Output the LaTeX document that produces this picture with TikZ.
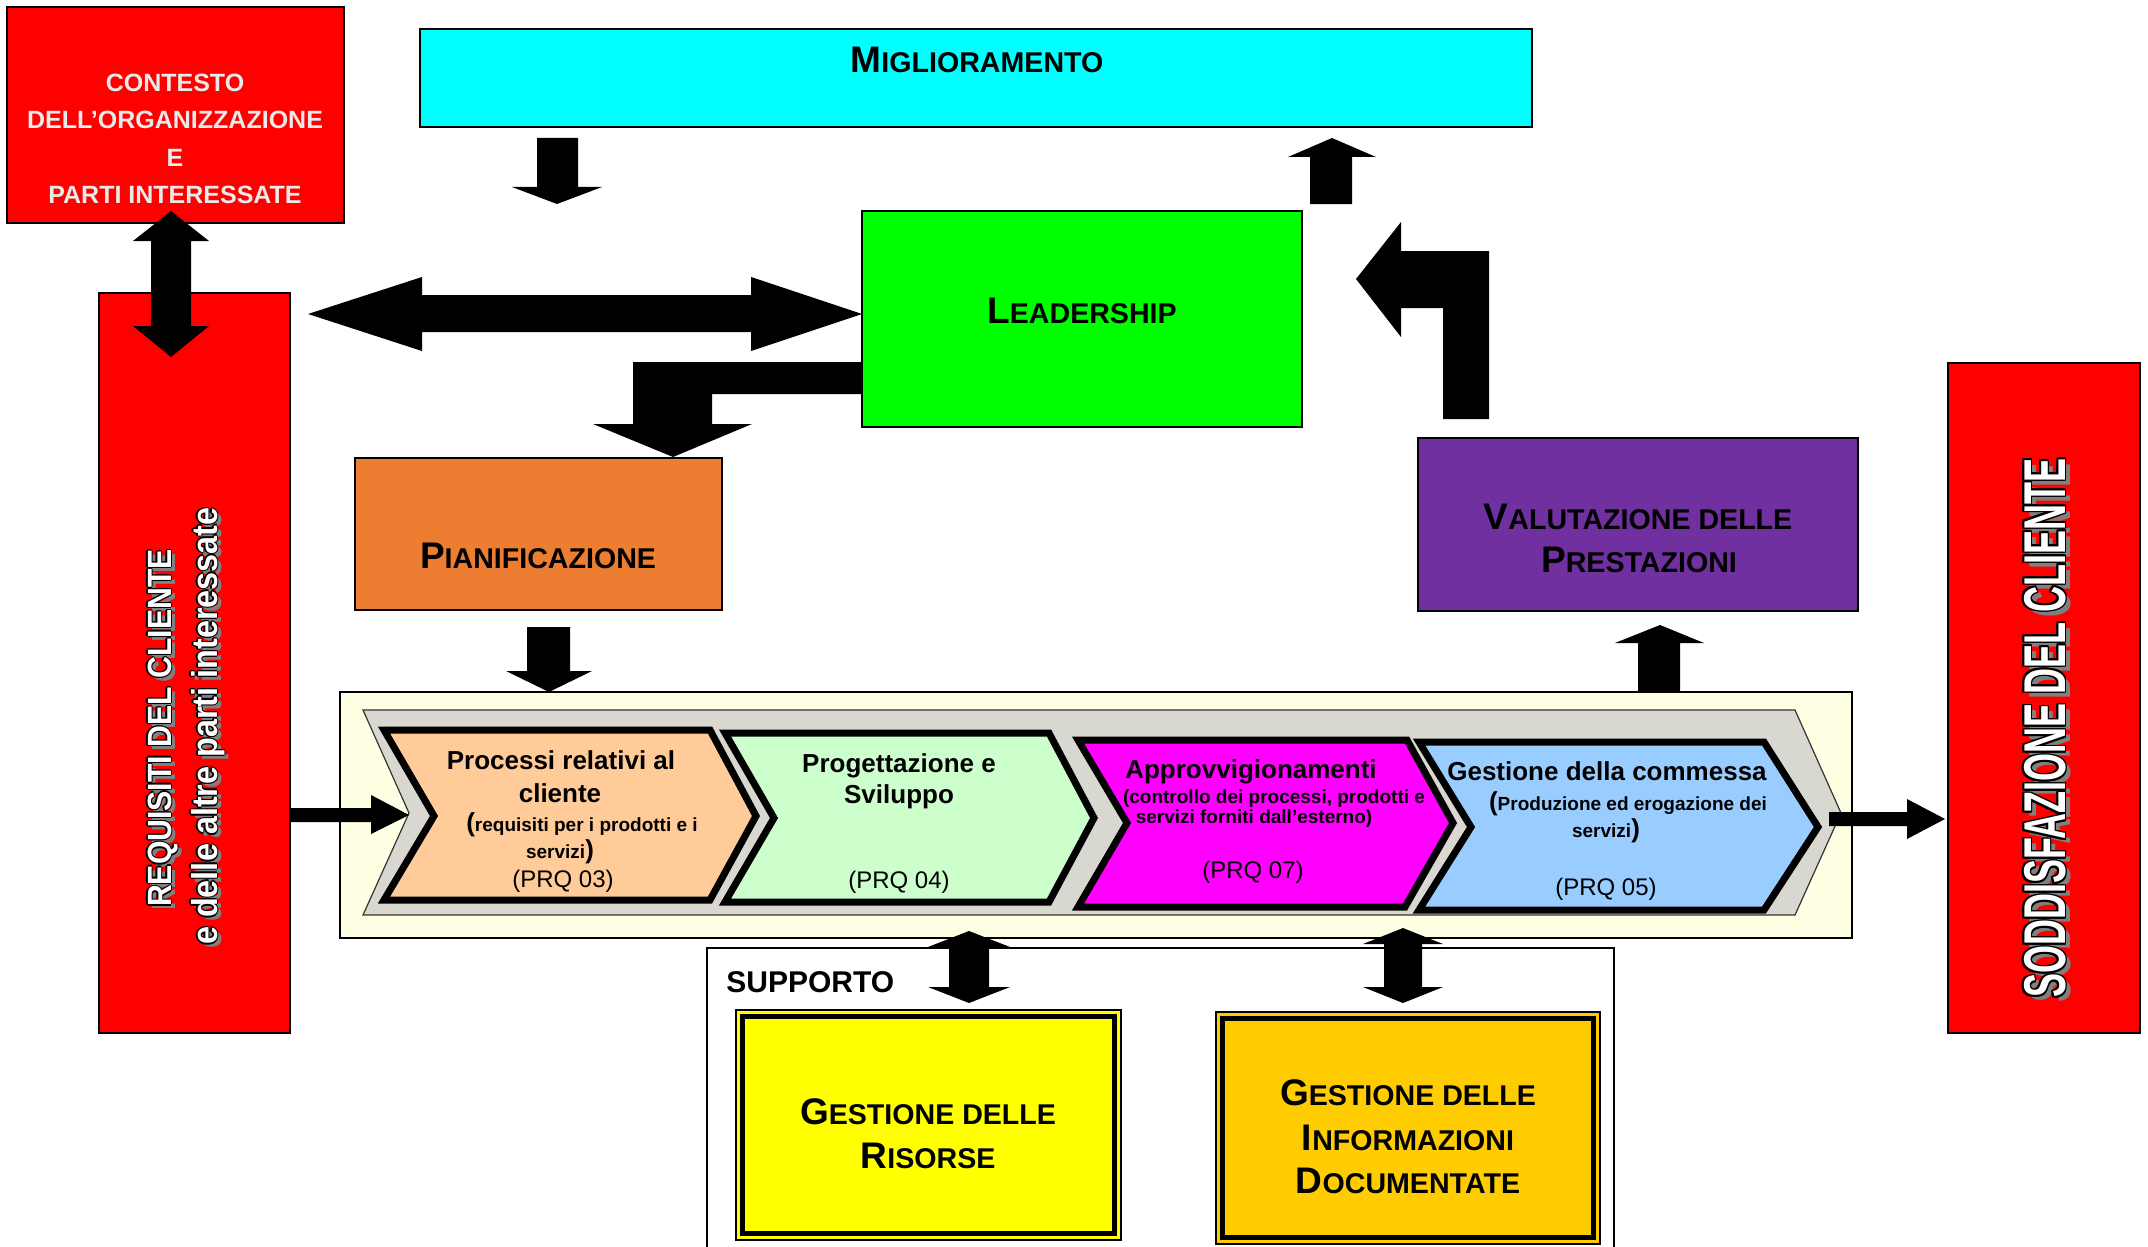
\documentclass[tikz,border=0pt]{standalone}
\usepackage{fontspec}
\setmainfont{Liberation Sans}
\newfontfamily\reqfont[FakeStretch=0.9]{Liberation Sans}
\newfontfamily\sodfont[FakeStretch=0.61]{Liberation Sans}
\usetikzlibrary{calc}
\definecolor{cred}{RGB}{255,0,0}
\definecolor{ccyan}{RGB}{0,255,255}
\definecolor{cgreen}{RGB}{0,255,0}
\definecolor{corange}{RGB}{237,125,49}
\definecolor{cpurple}{RGB}{112,48,160}
\definecolor{ccream}{RGB}{255,255,228}
\definecolor{cgray}{RGB}{216,216,208}
\definecolor{cpeach}{RGB}{255,204,153}
\definecolor{clgreen}{RGB}{204,255,204}
\definecolor{cmag}{RGB}{255,0,255}
\definecolor{clblue}{RGB}{153,204,255}
\definecolor{cyel}{RGB}{255,255,0}
\definecolor{cgold}{RGB}{255,204,0}
\definecolor{ctxt}{RGB}{234,234,234}
\definecolor{cshadow}{RGB}{128,128,128}
\newcommand\hsc[2]{{\bfseries\fontsize{18.5}{22}\selectfont #1\fontsize{14.3}{22}\selectfont #2}}
\newcommand\bp[1]{{\fontsize{13}{15}\selectfont #1}}
\newcommand\otext[4]{% #1 shadow offset, #2 outline offset, #3 diagonal offset, #4 text
  \leavevmode
  \rlap{\kern-#1\raisebox{-#1}{\textcolor{cshadow}{#4}}}%
  \rlap{\kern#2\textcolor{black}{#4}}%
  \rlap{\kern-#2\textcolor{black}{#4}}%
  \rlap{\raisebox{#2}{\textcolor{black}{#4}}}%
  \rlap{\raisebox{-#2}{\textcolor{black}{#4}}}%
  \rlap{\kern#3\raisebox{#3}{\textcolor{black}{#4}}}%
  \rlap{\kern-#3\raisebox{#3}{\textcolor{black}{#4}}}%
  \rlap{\kern#3\raisebox{-#3}{\textcolor{black}{#4}}}%
  \rlap{\kern-#3\raisebox{-#3}{\textcolor{black}{#4}}}%
  \textcolor{white}{#4}}
\tikzset{
  box/.style={draw=black, line width=1pt, inner sep=0pt},
  txt/.style={inner sep=0pt, anchor=base, font=\bfseries},
  htxt/.style={inner sep=0pt, anchor=base},
  ttl/.style={inner sep=0pt, anchor=base, font=\bfseries\fontsize{13}{15}\selectfont},
  sub/.style={inner sep=0pt, anchor=base, font=\bfseries\fontsize{9.5}{11}\selectfont},
  prq/.style={inner sep=0pt, anchor=base, font=\fontsize{12}{14}\selectfont},
  blk/.style={fill=black},
  chev/.style={draw=black, line width=3.5pt, line join=miter},
}
\begin{document}
\begin{tikzpicture}[x=0.5pt,y=-0.5pt]
\useasboundingbox (0,0) rectangle (2148,1247);
\clip (0,0) rectangle (2148,1247);
\fill[white] (0,0) rectangle (2148,1247);

% ---- main boxes
\node[box, fill=cred, minimum width=168.5pt, minimum height=108pt] (ctx) at (175.5,115) {};
\node[box, fill=ccyan, minimum width=556pt, minimum height=49pt] (mig) at (976,78) {};
\node[box, fill=cgreen, minimum width=220pt, minimum height=108pt] (lead) at (1082,319) {};
\node[box, fill=corange, minimum width=183.5pt, minimum height=76pt] (pian) at (538.5,534) {};
\node[box, fill=cpurple, minimum width=220pt, minimum height=86.5pt] (val) at (1638,524.5) {};
\node[box, fill=cred, minimum width=95.5pt, minimum height=370pt] (req) at (194.5,663) {};
\node[box, fill=cred, minimum width=96pt, minimum height=335pt] (sod) at (2044,698) {};
\node[box, fill=ccream, minimum width=756pt, minimum height=123pt] (proc) at (1096,815) {};
\node[box, fill=white, minimum width=453.5pt, minimum height=180pt] (sup) at (1160.5,1128) {};

% ---- process chevrons
\draw[fill=cgray, draw=black!80, line width=0.6pt, line join=miter]
  (363,710) -- (1795,710) -- (1841,813) -- (1795,915) -- (363,915) -- (409,813) -- cycle;
\draw[chev, fill=cpeach]  (384,730) -- (710,730) -- (756,816) -- (710,900) -- (384,900) -- (434,816) -- cycle;
\draw[chev, fill=clgreen] (725,733) -- (1049,733) -- (1094,818) -- (1049,902) -- (725,902) -- (774,818) -- cycle;
\draw[chev, fill=cmag]    (1078,740) -- (1407,740) -- (1453,823) -- (1405,907) -- (1078,907) -- (1127,823) -- cycle;
\draw[chev, fill=clblue]  (1419,742) -- (1764,742) -- (1818,827) -- (1764,910) -- (1419,910) -- (1471,827) -- cycle;

% ---- support boxes (double border)
\node[box, fill=cyel, line width=0.8pt, minimum width=192.5pt, minimum height=115pt] (ris) at (928.5,1125) {};
\draw[line width=2.5pt] ($(ris.north west)+(7,7)$) rectangle ($(ris.south east)+(-7,-7)$);
\node[box, fill=cgold, line width=0.8pt, minimum width=192pt, minimum height=116pt] (inf) at (1408,1128) {};
\draw[line width=2.5pt] ($(inf.north west)+(7,7)$) rectangle ($(inf.south east)+(-7,-7)$);

% ---- texts
\node[txt, text=ctxt, font=\bfseries\fontsize{12.5}{15}\selectfont] (ctx1) at (175,92) {CONTESTO};
\node[txt, text=ctxt, font=\bfseries\fontsize{12.5}{15}\selectfont] (ctx2) at (175,129) {DELL’ORGANIZZAZIONE};
\node[txt, text=ctxt, font=\bfseries\fontsize{12.5}{15}\selectfont] (ctx3) at (175,167) {E};
\node[txt, text=ctxt, font=\bfseries\fontsize{12.5}{15}\selectfont] (ctx4) at (175,204) {PARTI INTERESSATE};

\node[htxt] (migt) at (977,73) {\hsc{M}{IGLIORAMENTO}};
\node[htxt] (leadt) at (1082,323) {\hsc{L}{EADERSHIP}};
\node[htxt] (piant) at (538,568) {\hsc{P}{IANIFICAZIONE}};
\node[htxt] (valt1) at (1638,529) {\hsc{V}{ALUTAZIONE DELLE}};
\node[htxt] (valt2) at (1639,572) {\hsc{P}{RESTAZIONI}};
\node[htxt] (rist1) at (928,1124) {\hsc{G}{ESTIONE DELLE}};
\node[htxt] (rist2) at (928,1168) {\hsc{R}{ISORSE}};
\node[htxt] (inft1) at (1408,1105) {\hsc{G}{ESTIONE DELLE}};
\node[htxt] (inft2) at (1408,1150) {\hsc{I}{NFORMAZIONI}};
\node[htxt] (inft3) at (1408,1193) {\hsc{D}{OCUMENTATE}};
\node[txt, anchor=base west, font=\bfseries\fontsize{15}{17}\selectfont] (supt) at (726,992) {SUPPORTO};

\node[ttl] (c1a) at (561,769) {Processi relativi al};
\node[ttl] (c1b) at (560,802) {cliente};
\node[sub] (c1c) at (582,831) {\bp{(}requisiti per i prodotti e i};
\node[sub] (c1d) at (560,858) {servizi\bp{)}};
\node[prq] (c1e) at (563,887) {(PRQ 03)};
\node[ttl] (c2a) at (899,772) {Progettazione e};
\node[ttl] (c2b) at (899,803) {Sviluppo};
\node[prq] (c2c) at (899,888) {(PRQ 04)};
\node[ttl] (c3a) at (1251,778) {Approvvigionamenti};
\node[sub] (c3b) at (1274,803) {(controllo dei processi, prodotti e};
\node[sub] (c3c) at (1254,823) {servizi forniti dall’esterno)};
\node[prq] (c3d) at (1253,878) {(PRQ 07)};
\node[ttl] (c4a) at (1607,780) {Gestione della commessa};
\node[sub] (c4b) at (1628,810) {\bp{(}Produzione ed erogazione dei};
\node[sub] (c4c) at (1606,837) {servizi\bp{)}};
\node[prq] (c4d) at (1606,895) {(PRQ 05)};

\node[htxt, rotate=90, font=\reqfont\bfseries\fontsize{16.8}{18}\selectfont] (reqt1) at (171,728) {\otext{2pt}{0.6pt}{0.42pt}{REQUISITI DEL CLIENTE}};
\node[htxt, rotate=90, font=\reqfont\bfseries\fontsize{18}{20}\selectfont] (reqt2) at (217,726) {\otext{2pt}{0.6pt}{0.42pt}{e delle altre parti interessate}};
\node[htxt, rotate=90, font=\sodfont\bfseries\fontsize{29.5}{30}\selectfont] (sodt) at (2065,728) {\otext{2.5pt}{0.9pt}{0.64pt}{SODDISFAZIONE DEL CLIENTE}};

% ---- block arrows
% context <-> requisiti
\fill[blk] (171,211) -- (209,241) -- (191,241) -- (191,326) -- (209,326) -- (171,357)
  -- (133,326) -- (151,326) -- (151,241) -- (133,241) -- cycle;
% horizontal double arrow to leadership
\fill[blk] (308,314) -- (422,277) -- (422,295) -- (751,295) -- (751,277) -- (862,314)
  -- (751,351) -- (751,332) -- (422,332) -- (422,351) -- cycle;
% miglioramento -> down
\fill[blk] (537,138) -- (578,138) -- (578,187) -- (602,187) -- (557,204) -- (512,187) -- (537,187) -- cycle;
% up -> miglioramento
\fill[blk] (1332,138) -- (1376,157) -- (1352,157) -- (1352,204) -- (1310,204) -- (1310,157) -- (1288,157) -- cycle;
% leadership -> pianificazione (L)
\fill[blk] (862,362) -- (633,362) -- (633,424) -- (593,424) -- (673,457) -- (752,424) -- (712,424) -- (712,394) -- (862,394) -- cycle;
% pianificazione -> processes
\fill[blk] (527,627) -- (570,627) -- (570,671) -- (592,671) -- (549,692) -- (506,671) -- (527,671) -- cycle;
% valutazione -> leadership (L)
\fill[blk] (1443,419) -- (1489,419) -- (1489,251) -- (1401,251) -- (1401,222) -- (1356,279) -- (1401,337) -- (1401,308) -- (1443,308) -- cycle;
% processes -> valutazione
\fill[blk] (1660,625) -- (1704,643) -- (1680,643) -- (1680,692) -- (1638,692) -- (1638,643) -- (1615,643) -- cycle;
% requisiti -> processes
\fill[blk] (290,808) -- (371,808) -- (371,795) -- (409,815) -- (371,834) -- (371,822) -- (290,822) -- cycle;
% processes -> soddisfazione
\fill[blk] (1829,812) -- (1907,812) -- (1907,799) -- (1945,819) -- (1907,839) -- (1907,826) -- (1829,826) -- cycle;
% support double arrows
\fill[blk] (969,931) -- (1010,947) -- (989,947) -- (989,987) -- (1010,987) -- (969,1003)
  -- (928,987) -- (949,987) -- (949,947) -- (928,947) -- cycle;
\fill[blk] (1403,928) -- (1443,944) -- (1422,944) -- (1422,987) -- (1443,987) -- (1403,1003)
  -- (1363,987) -- (1384,987) -- (1384,944) -- (1363,944) -- cycle;
\end{tikzpicture}
\end{document}
